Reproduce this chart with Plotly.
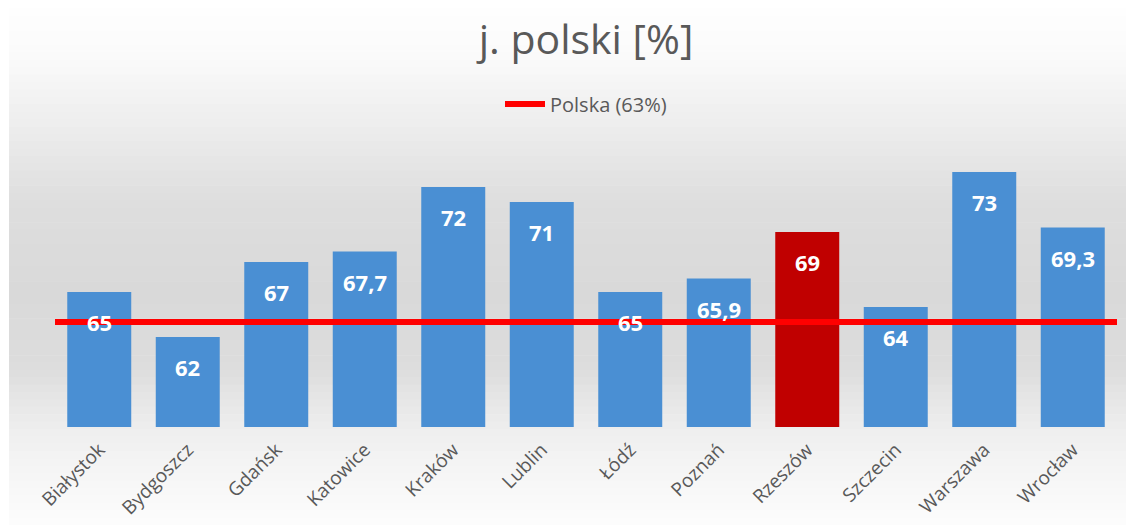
import plotly.graph_objects as go

cities = ["Białystok", "Bydgoszcz", "Gdańsk", "Katowice", "Kraków", "Lublin",
          "Łódź", "Poznań", "Rzeszów", "Szczecin", "Warszawa", "Wrocław"]
values = [65, 62, 67, 67.7, 72, 71, 65, 65.9, 69, 64, 73, 69.3]
highlight = "Rzeszów"
poland_avg = 63
poland_label = "Polska (63%)"
title_text = "j. polski [%]"

BLUE = "#4a8fd3"
RED_BAR = "#c00000"
GRAY_TXT = "#595959"
FONT = "Open Sans"

def fmt(v):
    return str(int(v)) if float(v).is_integer() else str(v).replace(".", ",")

colors = [RED_BAR if c == highlight else BLUE for c in cities]

fig = go.Figure()
fig.add_trace(go.Bar(x=cities, y=values, marker=dict(color=colors, line=dict(width=0)),
                     showlegend=False, hoverinfo="x+y"))
fig.add_trace(go.Scatter(x=[0, 1], y=[poland_avg, poland_avg], xaxis="x2", mode="lines",
                         line=dict(color="#ff0000", width=6), name=poland_label))

for c, v in zip(cities, values):
    fig.add_annotation(x=c, y=v, text=fmt(v), showarrow=False, yshift=-30,
                       font=dict(family=FONT, size=22, color="white", weight="bold"))

# page offset (browser body margin)
OFF = 8
W, H = 1134 - OFF, 525 - OFF
# desired plot area in window pixels
PL, PR, PT, PB = 55, 1117, 142, 427
l, r = PL - OFF, W + OFF - PR
t, b = PT - OFF, H + OFF - PB
pw, ph = W - l - r, H - t - b

def wy(yw):
    """window y pixel -> paper y"""
    return (PB - yw) / ph

def wx(xw):
    return (xw - PL) / pw

# background gradient stripes, given as window-y stops
stops = [(0, 255), (60, 250), (130, 236), (200, 222), (290, 217),
         (370, 221), (420, 236), (460, 244), (525, 252)]
N = 70
shapes = []
for i in range(N):
    y0 = 8 + (525 - 8) * i / N
    y1 = 8 + (525 - 8) * (i + 1) / N
    ym = (y0 + y1) / 2
    for (a, ca), (bb, cb) in zip(stops[:-1], stops[1:]):
        if a <= ym <= bb:
            g = int(round(ca + (cb - ca) * (ym - a) / (bb - a)))
            break
    shapes.append(dict(type="rect", xref="paper", yref="paper",
                       x0=wx(9), x1=wx(1134), y0=wy(y1 + 0.6), y1=wy(y0),
                       line=dict(width=0), fillcolor=f"rgb({g},{g},{g})", layer="below"))

fig.update_layout(
    width=W, height=H,
    margin=dict(l=l, r=r, t=t, b=b, autoexpand=False),
    paper_bgcolor="white", plot_bgcolor="rgba(0,0,0,0)",
    shapes=shapes,
    bargap=0.277,
    title=dict(text=title_text, x=0.5, xref="paper", y=1 - (40 - OFF) / H, yanchor="middle",
               font=dict(family=FONT, size=41, color=GRAY_TXT)),
    legend=dict(orientation="h", x=0.5, xanchor="center", y=wy(104), yanchor="middle",
                font=dict(family=FONT, size=20, color=GRAY_TXT),
                bgcolor="rgba(0,0,0,0)", itemwidth=40),
    xaxis=dict(showgrid=False, showline=False, zeroline=False, tickangle=-45,
               tickfont=dict(family=FONT, size=19, color=GRAY_TXT), ticks="",
               ticklabelstandoff=7, automargin=False),
    xaxis2=dict(overlaying="x", range=[0, 1], visible=False),
    yaxis=dict(range=[56, 75], visible=False, automargin=False),
)

fig.write_html("out.html")
